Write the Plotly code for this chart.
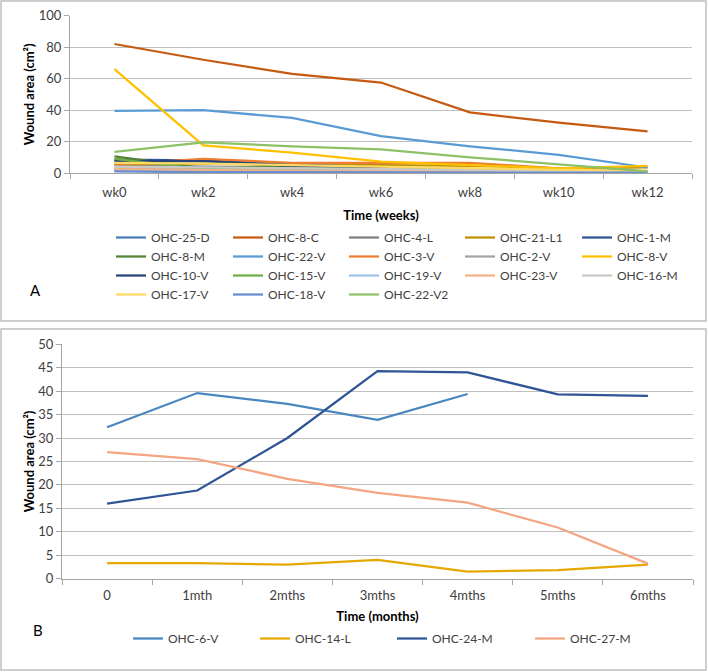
import plotly.graph_objects as go

weeks = ["wk0", "wk2", "wk4", "wk6", "wk8", "wk10", "wk12"]
months = ["0", "1mth", "2mths", "3mths", "4mths", "5mths", "6mths"]

# panel A series (wound area, cm2)
names_a = ["OHC-25-D", "OHC-8-C", "OHC-4-L", "OHC-21-L1", "OHC-1-M",
           "OHC-8-M", "OHC-22-V", "OHC-3-V", "OHC-2-V", "OHC-8-V",
           "OHC-10-V", "OHC-15-V", "OHC-19-V", "OHC-23-V", "OHC-16-M",
           "OHC-17-V", "OHC-18-V", "OHC-22-V2"]
ohc_25_d = [2, 1.5, 1, 1, 0.5, 0.5, 0.5]
ohc_8_c = [82, 72, 63, 57.5, 38.5, 32, 26.5]
ohc_4_l = [5, 4, 3.5, 2.5, 2, 1, 0.5]
ohc_21_l1 = [5.5, 6, 5, 5, 4.5, 3, 3.5]
ohc_1_m = [8.5, 8, 5.5, 3.5, 2, 1, 0.5]
ohc_8_m = [10.5, 3, 4.5, 3, 2, 1, 0.5]
ohc_22_v = [39.5, 40, 35, 23.5, 17, 11.5, 3.5]
ohc_3_v = [5.5, 9, 6.5, 6.3, 6.5, 3, 1]
ohc_2_v = [3, 2.5, 2, 1.5, 1, 0.5, 0.3]
ohc_8_v = [66, 17.5, 13, 7.2, 5, 3, 4.5]
ohc_10_v = [7.5, 7.5, 4.5, 3, 1.5, 0.5, 0.5]
ohc_15_v = [9, 2.5, 3, 2.5, 2, 1, 0.5]
ohc_19_v = [1.5, 1, 1, 0.8, 0.5, 0.5, 0.3]
ohc_23_v = [2.5, 2, 1.5, 1.5, 1, 0.5, 0.5]
ohc_16_m = [4, 3.5, 3, 2.5, 2, 1, 1]
ohc_17_v = [6.5, 6, 5, 4, 3, 2, 1.5]
ohc_18_v = [1, 0.5, 0.5, 0.3, 0.2, 0.2, 0.2]
ohc_22_v2 = [13.5, 19.5, 17, 15, 10, 5.5, 1]
values_a = [ohc_25_d, ohc_8_c, ohc_4_l, ohc_21_l1, ohc_1_m, ohc_8_m, ohc_22_v,
            ohc_3_v, ohc_2_v, ohc_8_v, ohc_10_v, ohc_15_v, ohc_19_v, ohc_23_v,
            ohc_16_m, ohc_17_v, ohc_18_v, ohc_22_v2]
colors_a = ["#4a7ebb", "#c55a11", "#7f7f7f", "#bf9000", "#2f5597",
            "#548235", "#5b9bd5", "#ed7d31", "#a5a5a5", "#ffc000",
            "#264478", "#70ad47", "#9dc3e6", "#f4b183", "#c9c9c9",
            "#ffd966", "#698ed0", "#8cc168"]

# panel B series
names_b = ["OHC-6-V", "OHC-14-L", "OHC-24-M", "OHC-27-M"]
ohc_6_v = [32.3, 39.6, 37.3, 33.9, 39.4, None, None]
ohc_14_l = [3.3, 3.3, 3.0, 4.0, 1.5, 1.8, 3.0]
ohc_24_m = [16.0, 18.8, 30.0, 44.3, 44.0, 39.3, 39.0]
ohc_27_m = [27.0, 25.5, 21.3, 18.3, 16.2, 10.9, 3.2]
values_b = [ohc_6_v, ohc_14_l, ohc_24_m, ohc_27_m]
colors_b = ["#4a86c0", "#e6a800", "#2f5597", "#f4a582"]

W, H = 708, 672
def px(x):
    return x / W
def py(y):
    return 1 - y / H

font = "Lato, Open Sans, sans-serif"
leg_font = dict(family=font, size=12, color="#404040")

# legend A is a 5-column grid: one vertical legend per column
cols_a = [111, 228, 344, 460, 577]
cols_b = [128, 255, 392, 530]

fig = go.Figure()
for i, (n, v, c) in enumerate(zip(names_a, values_a, colors_a)):
    k = i % 5
    fig.add_trace(go.Scatter(x=weeks, y=v, name=n, mode="lines",
                             line=dict(color=c, width=2.25),
                             xaxis="x", yaxis="y",
                             legend="legend" if k == 0 else "legend%d" % (k + 1)))
for i, (n, v, c) in enumerate(zip(names_b, values_b, colors_b)):
    fig.add_trace(go.Scatter(x=months, y=v, name=n, mode="lines",
                             line=dict(color=c, width=2.25),
                             xaxis="x2", yaxis="y2", legend="legend%d" % (i + 6)))

legends = {}
for k, x in enumerate(cols_a):
    legends["legend" if k == 0 else "legend%d" % (k + 1)] = dict(
        orientation="v", x=px(x), y=py(223), xanchor="left", yanchor="top",
        itemwidth=30, font=leg_font, bgcolor="rgba(0,0,0,0)", tracegroupgap=0)
for k, x in enumerate(cols_b):
    legends["legend%d" % (k + 6)] = dict(
        orientation="v", x=px(x), y=py(624), xanchor="left", yanchor="top",
        itemwidth=30, font=leg_font, bgcolor="rgba(0,0,0,0)")

tick_font = dict(family=font, size=13, color="#404040")
title_font = dict(family=font, size=13, color="#000000", weight="bold")

xcommon = dict(type="category", showline=True, linecolor="#a6a6a6",
               ticks="outside", tickson="boundaries", ticklen=5,
               tickcolor="#a6a6a6", showgrid=False, tickfont=tick_font,
               title_font=title_font, automargin=False, range=[-0.5, 6.5])
ycommon = dict(showline=True, linecolor="#a6a6a6", ticks="outside", ticklen=5,
               tickcolor="#a6a6a6", gridcolor="#bfbfbf", gridwidth=1,
               zeroline=False, tickfont=tick_font, title_font=title_font,
               ticklabelstandoff=0, automargin=False)

fig.update_layout(
    width=W, height=H,
    margin=dict(l=0, r=0, t=0, b=0, autoexpand=False),
    paper_bgcolor="white", plot_bgcolor="white",
    font=dict(family=font, color="#404040"),
    xaxis=dict(xcommon, domain=[px(70), px(692)], anchor="y",
               ticklabelstandoff=7,
               title=dict(text="Time (weeks)", standoff=12)),
    yaxis=dict(ycommon, domain=[py(173), py(15.7)], anchor="x",
               range=[0, 100], dtick=20,
               title=dict(text="Wound area (cm²)", standoff=1)),
    xaxis2=dict(xcommon, domain=[px(62), px(693)], anchor="y2",
                ticklabelstandoff=5,
                title=dict(text="Time (months)", standoff=9)),
    yaxis2=dict(ycommon, domain=[py(578.6), py(344.3)], anchor="x2",
                range=[0, 50], dtick=5,
                title=dict(text="Wound area (cm²)", standoff=0)),
    shapes=[
        dict(type="rect", xref="paper", yref="paper", x0=px(1), x1=px(706),
             y0=py(321), y1=py(1), line=dict(color="#bfbfbf", width=1.5)),
        dict(type="rect", xref="paper", yref="paper", x0=px(1), x1=px(706),
             y0=py(670), y1=py(329), line=dict(color="#bfbfbf", width=1.5)),
    ],
    annotations=[
        dict(text="A", x=px(28), y=py(290), xref="paper", yref="paper",
             showarrow=False, font=dict(family=font, size=15, color="#000000")),
        dict(text="B", x=px(31), y=py(641), xref="paper", yref="paper",
             showarrow=False, font=dict(family=font, size=15, color="#000000")),
    ],
    showlegend=True,
    **legends,
)

# drop the default 8px page margin so the figure sits at the window origin
fig.write_html("out.html", config={"displayModeBar": False},
               post_script="document.body.style.margin='0';")
